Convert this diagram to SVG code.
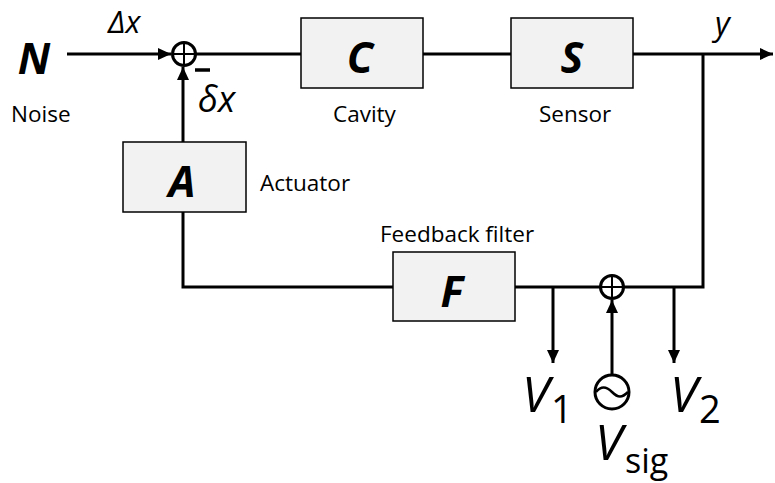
<svg xmlns="http://www.w3.org/2000/svg" width="775" height="483" viewBox="0 0 775 483">
<defs>
<marker id="arr" markerUnits="userSpaceOnUse" markerWidth="14" markerHeight="12" refX="13" refY="6" orient="auto">
<path d="M0,0 L13,6 L0,12 Z" fill="#000"/>
</marker>
<style>
.ln{fill:none;stroke:#000;stroke-width:3}
.box{fill:#f2f2f2;stroke:#000;stroke-width:1.5}
.sum{fill:#fff;stroke:#000;stroke-width:3}
.big{font-family:"Open Sans","Liberation Sans",sans-serif;font-weight:bold;font-style:italic;font-size:43px;text-anchor:middle}
.lbl{font-family:"Open Sans","Liberation Sans",sans-serif;font-size:22.5px}
.it{font-family:"Open Sans","Liberation Sans",sans-serif;font-style:italic}
.up{font-family:"Open Sans","Liberation Sans",sans-serif}
</style>
</defs>
<g id="connectors">
<line class="ln" x1="67" y1="54" x2="171" y2="54" marker-end="url(#arr)"/>
<line class="ln" x1="196" y1="54" x2="301" y2="54"/>
<line class="ln" x1="423" y1="54" x2="511" y2="54"/>
<line class="ln" x1="633" y1="54" x2="773" y2="54" marker-end="url(#arr)"/>
<line class="ln" x1="183" y1="142" x2="183" y2="67" marker-end="url(#arr)"/>
<polyline class="ln" points="183,212 183,287 393,287"/>
<line class="ln" x1="515" y1="287" x2="600" y2="287"/>
<polyline class="ln" points="624,287 703,287 703,54"/>
<line class="ln" x1="553" y1="287" x2="553" y2="363" marker-end="url(#arr)"/>
<line class="ln" x1="674" y1="287" x2="674" y2="363" marker-end="url(#arr)"/>
<line class="ln" x1="612" y1="375" x2="612" y2="300" marker-end="url(#arr)"/>
</g>
<g id="noise">
<text class="big" x="34" y="74" font-size="47">N</text>
<text class="lbl" x="11" y="122">Noise</text>
<text class="it" x="108" y="33" font-size="31">Δx</text>
</g>
<g id="sum1">
<circle class="sum" cx="184" cy="54" r="11.5"/>
<line x1="173" y1="54" x2="195" y2="54" stroke="#000" stroke-width="2"/>
<line x1="184" y1="43" x2="184" y2="65" stroke="#000" stroke-width="2"/>
<line x1="195" y1="70" x2="210" y2="70" stroke="#000" stroke-width="3.5"/>
<text class="it" x="198" y="112" font-size="36">δx</text>
</g>
<g id="cavity">
<rect class="box" x="301" y="18" width="122" height="70"/>
<text class="big" x="360" y="73">C</text>
<text class="lbl" x="333" y="122">Cavity</text>
</g>
<g id="sensor">
<rect class="box" x="511" y="18" width="122" height="70"/>
<text class="big" x="572" y="73">S</text>
<text class="lbl" x="539" y="122">Sensor</text>
</g>
<g id="output">
<text class="it" x="715" y="35" font-size="32">y</text>
</g>
<g id="actuator">
<rect class="box" x="123" y="142" width="123" height="70"/>
<text class="big" x="182" y="197">A</text>
<text class="lbl" x="260" y="191">Actuator</text>
</g>
<g id="filter">
<rect class="box" x="393" y="252" width="122" height="69"/>
<text class="big" x="452" y="307">F</text>
<text class="lbl" x="380" y="242">Feedback filter</text>
</g>
<g id="sum2">
<circle class="sum" cx="612" cy="287" r="11.5"/>
<line x1="601" y1="287" x2="623" y2="287" stroke="#000" stroke-width="2"/>
<line x1="612" y1="276" x2="612" y2="298" stroke="#000" stroke-width="2"/>
</g>
<g id="v1">
<text class="it" x="522" y="412" font-size="50">V</text>
<text class="up" x="551" y="423" font-size="38">1</text>
</g>
<g id="v2">
<text class="it" x="670" y="412" font-size="50">V</text>
<text class="up" x="699" y="423" font-size="38">2</text>
</g>
<g id="vsig">
<circle cx="612" cy="392" r="17" fill="#fff" stroke="#000" stroke-width="3"/>
<path d="M596 392 C601 386,606 386,612 392 S622 398,628 392" fill="none" stroke="#000" stroke-width="2.5"/>
<text class="it" x="595" y="460" font-size="50">V</text>
<text class="up" x="625" y="473" font-size="34">sig</text>
</g>
</svg>
